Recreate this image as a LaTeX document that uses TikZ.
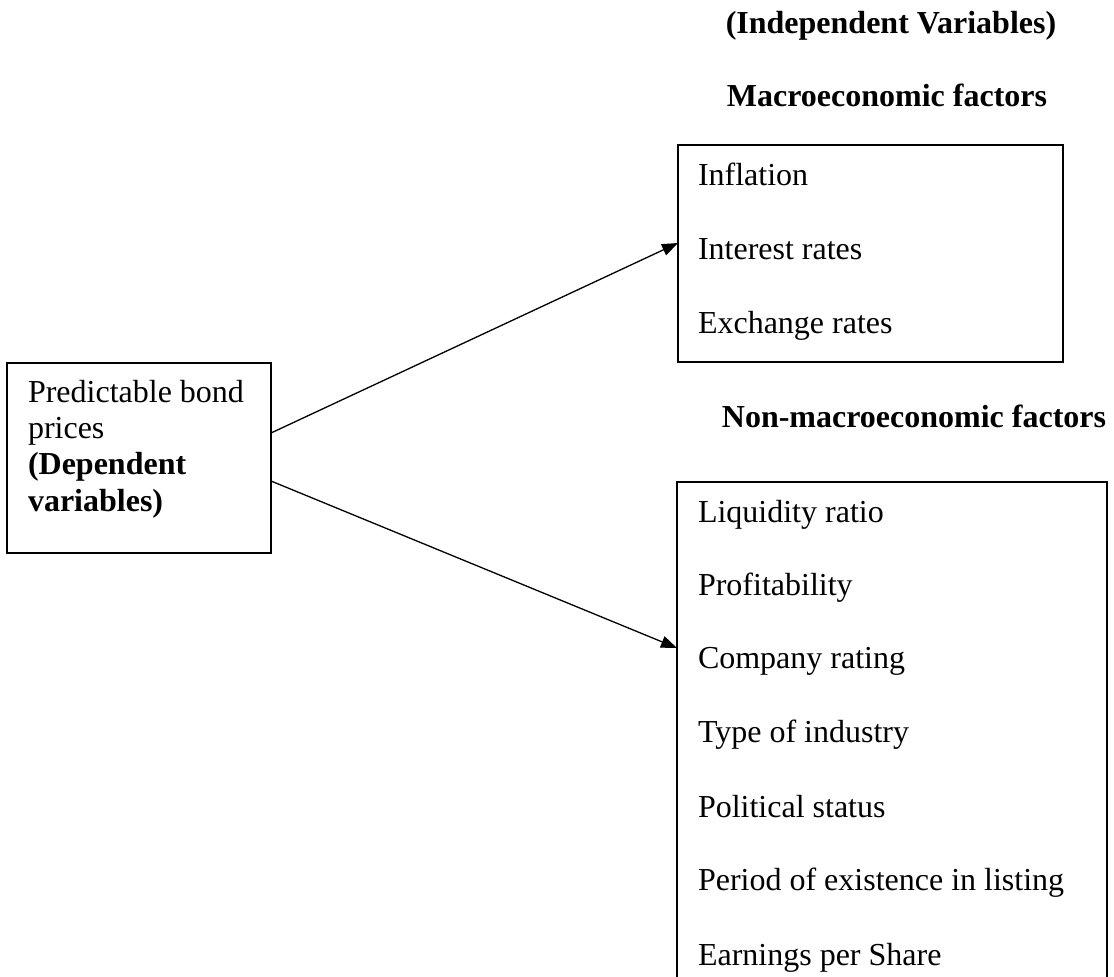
\documentclass[tikz,border=0pt]{standalone}
\usepackage{fontspec}
\setmainfont{Liberation Serif}
\usetikzlibrary{arrows.meta}
\begin{document}
\begin{tikzpicture}[x=1pt,y=-1pt,
  every node/.style={inner sep=0pt,outer sep=0pt,font=\fontsize{32}{38}\selectfont},
  boxstyle/.style={draw,line width=1.3pt,rectangle,anchor=north west},
  item/.style={anchor=base west},
  heading/.style={anchor=base,font=\fontsize{32}{38}\selectfont\bfseries},
  link/.style={line width=1.3pt,-{Triangle[length=16pt,width=12pt]}}]
\useasboundingbox[fill=white] (0,0) rectangle (1114,977);

% left box
\node[boxstyle,minimum width=264pt,minimum height=190pt] (dep) at (7,363) {};
\node[item] (d1) at (28,402) {Predictable bond};
\node[item] (d2) at (28,438) {prices};
\node[item,font=\fontsize{32}{38}\selectfont\bfseries] (d3) at (28,474) {(Dependent};
\node[item,font=\fontsize{32}{38}\selectfont\bfseries] (d4) at (28,511) {variables)};

% headings
\node[heading] (h1) at (891,33) {(Independent Variables)};
\node[heading] (h2) at (887,106) {Macroeconomic factors};
\node[heading] (h3) at (914,427) {Non-macroeconomic factors};

% macro box
\node[boxstyle,minimum width=385pt,minimum height=217pt] (macro) at (678,145) {};
\node[item] (m1) at (698,185) {Inflation};
\node[item] (m2) at (698,259) {Interest rates};
\node[item] (m3) at (698,333) {Exchange rates};

% non-macro box
\node[boxstyle,minimum width=430pt,minimum height=530pt] (nonmacro) at (677,482) {};
\node[item] (n1) at (698,522) {Liquidity ratio};
\node[item] (n2) at (698,595) {Profitability};
\node[item] (n3) at (698,668) {Company rating};
\node[item] (n4) at (698,742) {Type of industry};
\node[item] (n5) at (698,817) {Political status};
\node[item] (n6) at (698,890) {Period of existence in listing};
\node[item] (n7) at (698,965) {Earnings per Share};

% connectors
\coordinate (s1) at (dep.east |- 0,433);
\coordinate (s2) at (dep.east |- 0,481);
\coordinate (t1) at (macro.west |- 0,243);
\coordinate (t2) at (nonmacro.west |- 0,648);
\draw[link] (s1) -- (t1);
\draw[link] (s2) -- (t2);
\end{tikzpicture}
\end{document}
